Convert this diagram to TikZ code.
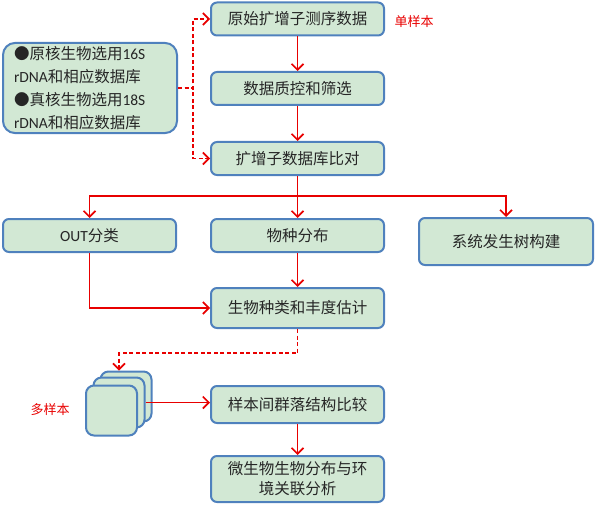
\documentclass[tikz,border=0pt]{standalone}
\usepackage{fontspec}
\setmainfont{Noto Sans CJK SC}
\newfontfamily\lat{Carlito}
\usepackage{xcolor}
\usepackage{tikz}
\usetikzlibrary{arrows.meta, positioning, calc}
\definecolor{boxfill}{RGB}{210,232,212}
\definecolor{boxline}{RGB}{79,129,189}
\definecolor{flowred}{RGB}{232,0,0}
\tikzstyle{arrow} = [flowred, line width=1.6pt, -{Straight Barb[length=6pt,width=12pt]}]
\tikzstyle{dasharrow} = [arrow, dash pattern=on 4pt off 2.5pt]

\begin{document}
\begin{tikzpicture}[
    x=1pt, y=-1pt,
    stage/.style={rectangle, rounded corners=6pt, draw=boxline, line width=2pt, fill=boxfill, minimum width=173pt, minimum height=33pt, text=black!85, font=\fontsize{15.5}{20}\selectfont},
    sheet/.style={rectangle, rounded corners=8pt, draw=boxline, line width=2pt, fill=boxfill, minimum width=51pt, minimum height=50pt},
    tag/.style={text=flowred, font=\fontsize{13}{15}\selectfont}
]
    \useasboundingbox (0,0) rectangle (596,513);

    \node[stage] (raw) at (297.5,19) {原始扩增子测序数据};
    \node[stage] (qc) at (297.5,88.5) {数据质控和筛选};
    \node[stage] (match) at (297.5,158.5) {扩增子数据库比对};
    \node[stage, minimum width=174pt, minimum height=90pt, rounded corners=12pt, text width=152pt, align=left, font=\fontsize{15.5}{23}\selectfont] (note) at (90,88)
        {●原核生物选用{\lat 16S}\\{\lat rDNA}和相应数据库\\●真核生物选用{\lat 18S}\\{\lat rDNA}和相应数据库};

    \node[stage] (otu) at (89.5,235.5) {{\lat OUT}分类};
    \node[stage] (species) at (297.5,235.5) {物种分布};
    \node[stage, minimum width=174pt, minimum height=47pt] (tree) at (506,241.5) {系统发生树构建};
    \node[stage, minimum height=40pt] (abund) at (297.5,308) {生物种类和丰度估计};

    \node[sheet] (back) at (126,396.5) {};
    \node[sheet] (mid) at (119,402.5) {};
    \node[sheet] (front) at (111.5,410.5) {};

    \node[stage, minimum height=37pt] (compare) at (297.5,404.5) {样本间群落结构比较};
    \node[stage, minimum height=46pt, align=center] (env) at (297.5,479) {微生物生物分布与环\\境关联分析};

    \node[tag] (single) at (414,22) {单样本};
    \node[tag] (multi) at (50,410) {多样本};

    \coordinate (fork) at (193,88);
    \coordinate (split) at (297.5,196);
    \coordinate (drop) at (119,353);

    % main line
    \draw[arrow] (raw) -- (qc);
    \draw[arrow] (qc) -- (match);
    \draw[arrow] (match) -- (species);
    \draw[arrow] (split) -| (otu);
    \draw[arrow] (split) -| (tree);
    \draw[arrow] (species) -- (abund);
    \draw[arrow] (otu) |- (abund);

    % database note
    \draw[dasharrow] (note.east) -- (fork) |- (raw);
    \draw[dasharrow] (note.east) -- (fork) |- (match);

    % multi samples
    \draw[dasharrow] (abund.south) |- (drop) -- (drop |- back.north);
    \draw[arrow] (mid.east) -- (mid.east -| compare.west);
    \draw[arrow] (compare) -- (env);
\end{tikzpicture}
\end{document}
